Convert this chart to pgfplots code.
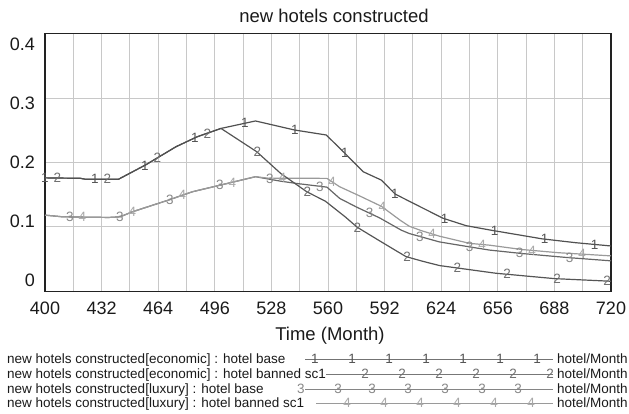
\documentclass[border=0pt]{standalone}
\usepackage{fontspec}
\setmainfont{Liberation Sans}
\usepackage{pgfplots}
\usepackage{pgfplotstable}
\pgfplotsset{compat=1.18}
\usetikzlibrary{plotmarks}

\definecolor{gridc}{HTML}{C8C8C8}
\definecolor{boxc}{HTML}{222222}
\definecolor{txtc}{HTML}{1A1A1A}
\definecolor{cA}{HTML}{505050}
\definecolor{cB}{HTML}{555555}
\definecolor{cC}{HTML}{666666}
\definecolor{cD}{HTML}{9A9A9A}
\definecolor{mA}{HTML}{555555}
\definecolor{mB}{HTML}{707070}
\definecolor{mC}{HTML}{888888}
\definecolor{mD}{HTML}{A8A8A8}

% economic : hotel base
\pgfplotstableread{
x y
400 0.1762
420 0.1755
423 0.1740
441.5 0.1740
457 0.1965
474 0.2245
486 0.2400
499.5 0.2530
519 0.2646
541 0.2506
559 0.2428
569.7 0.2140
579.9 0.1857
590.1 0.1728
598 0.1510
608 0.1370
625 0.1135
638 0.1020
652 0.0950
681 0.0815
700 0.0755
720 0.0704
}\serA
% economic : hotel banned sc1
\pgfplotstableread{
x y
400 0.1762
420 0.1755
423 0.1740
441.5 0.1740
457 0.1965
474 0.2245
486 0.2400
499.5 0.2530
519.7 0.2168
533.3 0.1830
548 0.1546
558.5 0.1400
569.7 0.1157
576.5 0.0995
590 0.0770
604 0.0540
613 0.0470
623 0.0400
631 0.0370
655 0.0280
688 0.0197
720 0.0156
}\serB
% luxury : hotel base
\pgfplotstableread{
x y
400 0.1183
410 0.1157
436 0.1147
442.5 0.1157
449.3 0.1234
469.7 0.1416
483.3 0.1546
499.2 0.1650
519 0.1780
533.3 0.1710
542 0.1676
559.4 0.1618
566.6 0.1443
576 0.1310
589.2 0.1140
601.4 0.0950
606 0.0897
612.8 0.0845
623 0.0767
640 0.0690
651.4 0.0640
669.6 0.0587
695 0.0525
720 0.0473
}\serC
% luxury : hotel banned sc1
\pgfplotstableread{
x y
400 0.1183
410 0.1157
436 0.1147
442.5 0.1157
449.3 0.1234
469.7 0.1416
483.3 0.1546
499.2 0.1650
519 0.1780
526 0.1758
559.4 0.1754
566.6 0.1624
578 0.1480
590.2 0.1320
601 0.1100
606 0.1010
613 0.0940
623 0.0856
640 0.0745
651.4 0.0716
669.6 0.0649
690 0.0600
720 0.0550
}\serD

% positions of the numbered markers on each curve
\pgfplotstableread{
x y
400 0.1762
428.25 0.1740
456.5 0.1955
484.75 0.2385
513 0.2612
541.25 0.2506
569.5 0.2145
597.75 0.1515
626 0.1125
654.25 0.0945
682.5 0.0812
710.75 0.0727
}\mkA
\pgfplotstableread{
x y
407 0.1758
435.3 0.1740
463.6 0.2075
491.8 0.2450
520.1 0.2160
548.3 0.1540
576.6 0.0993
604.8 0.0535
633.1 0.0365
661.3 0.0265
689.6 0.0195
717.8 0.0158
}\mkB
\pgfplotstableread{
x y
414.1 0.1155
442.4 0.1157
470.6 0.1425
498.9 0.1648
527.1 0.1740
555.4 0.1630
583.6 0.1220
611.9 0.0852
640.1 0.0690
668.4 0.0590
696.6 0.0522
}\mkC
\pgfplotstableread{
x y
421.2 0.1150
449.4 0.1234
477.7 0.1495
505.9 0.1690
534.2 0.1756
562.4 0.1700
590.7 0.1315
618.9 0.0890
647.2 0.0725
675.4 0.0635
703.7 0.0580
}\mkD

\newcommand{\tickfont}{\fontsize{18}{18}\selectfont}
\newcommand{\legfont}{\fontsize{13.5}{14}\selectfont}
\newcommand{\mkfont}{\fontsize{13.5}{13.5}\selectfont}

\begin{document}
\begin{tikzpicture}
\useasboundingbox (0,0) rectangle (629pt,414pt);

% ---------- main plot ----------
\begin{axis}[
  at={(45pt,122.7pt)}, anchor=south west,
  scale only axis, width=566pt, height=257.5pt,
  xmin=400, xmax=720, ymin=0, ymax=0.4,
  clip=false,
  xtick={400,432,464,496,528,560,592,624,656,688,720},
  xticklabels={400,432,464,496,528,560,592,624,656,688,720},
  minor xtick={416,448,480,512,544,576,608,640,672,704},
  ytick={0,0.1,0.2,0.3,0.4},
  yticklabels={,,,,},
  xmajorgrids, xminorgrids, ymajorgrids,
  major grid style={draw=gridc, line width=0.9pt},
  minor grid style={draw=gridc, line width=0.9pt},
  major tick length=0pt, minor tick length=0pt,
  axis line style={draw=boxc, line width=1.3pt},
  xticklabel style={font=\tickfont, text=txtc, anchor=base, yshift=-23.5pt},
]
\addplot[draw=cC, line width=1.2pt] table {\serC};
\addplot[draw=cD, line width=1.2pt] table {\serD};
\addplot[draw=cB, line width=1.2pt] table {\serB};
\addplot[draw=cA, line width=1.2pt] table {\serA};
\addplot[only marks, color=mC, mark=text, text mark={3}, text mark as node=true,
  text mark style={font=\mkfont, text=mC, inner sep=0pt}] table {\mkC};
\addplot[only marks, color=mD, mark=text, text mark={4}, text mark as node=true,
  text mark style={font=\mkfont, text=mD, inner sep=0pt}] table {\mkD};
\addplot[only marks, color=mB, mark=text, text mark={2}, text mark as node=true,
  text mark style={font=\mkfont, text=mB, inner sep=0pt}] table {\mkB};
\addplot[only marks, color=mA, mark=text, text mark={1}, text mark as node=true,
  text mark style={font=\mkfont, text=mA, inner sep=0pt}] table {\mkA};
\end{axis}

% ---------- y tick labels (Vensim-style placement) ----------
\begin{axis}[
  at={(45pt,134pt)}, anchor=south west,
  scale only axis, width=566pt, height=236pt,
  xmin=400, xmax=720, ymin=0, ymax=0.4,
  axis line style={draw=none},
  xtick=\empty,
  ytick={0,0.1,0.2,0.3,0.4},
  yticklabels={0,0.1,0.2,0.3,0.4},
  major tick length=0pt,
  yticklabel style={font=\tickfont, text=txtc, anchor=base east, inner sep=0pt, xshift=-10pt, yshift=-6.5pt},
]
\end{axis}

% ---------- canvas: title, axis label, legend ----------
\begin{axis}[
  at={(0pt,0pt)}, anchor=south west,
  scale only axis, width=629pt, height=414pt,
  xmin=0, xmax=629, ymin=0, ymax=414, y dir=reverse,
  hide axis, clip=false,
]
\node[anchor=base, font=\fontsize{18.5}{18.5}\selectfont, text=txtc, inner sep=0pt] at (axis cs:334,22.5) {new hotels constructed};
\node[anchor=base, font=\fontsize{18.5}{18.5}\selectfont, text=txtc, inner sep=0pt] at (axis cs:330,340.5) {Time (Month)};

% legend texts
\node[anchor=base west, font=\legfont, text=txtc, inner sep=0pt] at (axis cs:7,363.8) {new hotels constructed[economic] : hotel base};
\node[anchor=base west, font=\legfont, text=txtc, inner sep=0pt] at (axis cs:7,378.8) {new hotels constructed[economic] : hotel banned sc1};
\node[anchor=base west, font=\legfont, text=txtc, inner sep=0pt] at (axis cs:7,393.8) {new hotels constructed[luxury] : hotel base};
\node[anchor=base west, font=\legfont, text=txtc, inner sep=0pt] at (axis cs:7,407.8) {new hotels constructed[luxury] : hotel banned sc1};
\node[anchor=base west, font=\legfont, text=txtc, inner sep=0pt] at (axis cs:557,363.8) {hotel/Month};
\node[anchor=base west, font=\legfont, text=txtc, inner sep=0pt] at (axis cs:557,378.8) {hotel/Month};
\node[anchor=base west, font=\legfont, text=txtc, inner sep=0pt] at (axis cs:557,393.8) {hotel/Month};
\node[anchor=base west, font=\legfont, text=txtc, inner sep=0pt] at (axis cs:557,407.8) {hotel/Month};

% legend samples
\addplot[draw=cA!80, line width=1pt] coordinates {(305,359) (553,359)};
\addplot[draw=cB!80, line width=1pt] coordinates {(326,374) (553,374)};
\addplot[draw=cC!80, line width=1pt] coordinates {(305,389) (553,389)};
\addplot[draw=cD, line width=1pt] coordinates {(316,403) (553,403)};
\addplot[only marks, mark=text, text mark={1}, text mark as node=true,
  text mark style={font=\mkfont, text=mA, inner sep=0pt}]
  coordinates {(315,359) (352,359) (389,359) (426,359) (463,359) (500,359) (537,359)};
\addplot[only marks, mark=text, text mark={2}, text mark as node=true,
  text mark style={font=\mkfont, text=mB, inner sep=0pt}]
  coordinates {(365,374) (402,374) (439,374) (476,374) (513,374) (550,374)};
\addplot[only marks, mark=text, text mark={3}, text mark as node=true,
  text mark style={font=\mkfont, text=mC, inner sep=0pt}]
  coordinates {(301,389) (338,389) (372,389) (408,389) (445,389) (482,389) (518,389)};
\addplot[only marks, mark=text, text mark={4}, text mark as node=true,
  text mark style={font=\mkfont, text=mD, inner sep=0pt}]
  coordinates {(347,403) (384,403) (420,403) (457,403) (494,403) (531,403)};
\end{axis}
\end{tikzpicture}
\end{document}
